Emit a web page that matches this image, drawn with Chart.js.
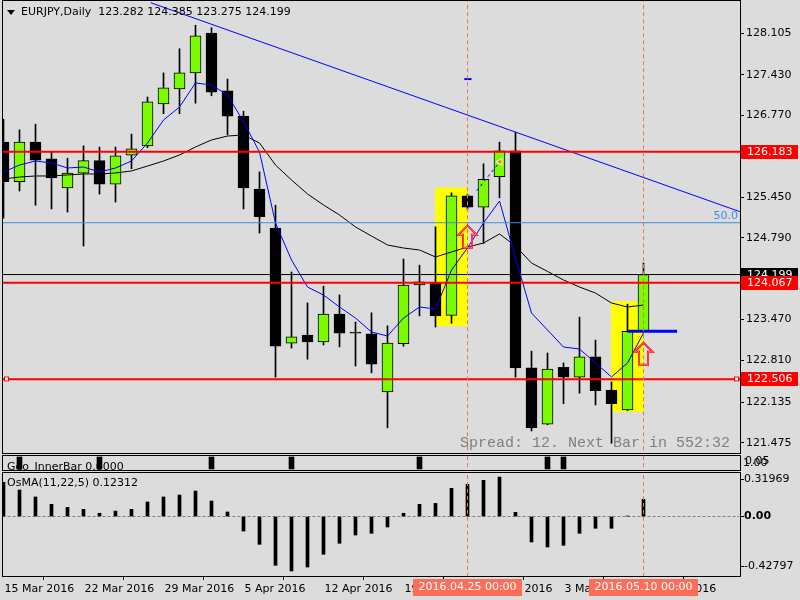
<!DOCTYPE html>
<html>
<head>
<meta charset="utf-8">
<script src="https://cdn.jsdelivr.net/npm/chart.js@4.4.1/dist/chart.umd.min.js"></script>
<style>
html, body { margin: 0; padding: 0; background: #dcdcdc; }
#wrap { position: relative; width: 800px; height: 600px; overflow: hidden; }
canvas { position: absolute; left: 0; }
</style>
</head>
<body>
<div id="wrap">
  <canvas id="main" width="800" height="454" style="top:0px"></canvas>
  <canvas id="inner" width="800" height="17" style="top:454px"></canvas>
  <canvas id="osma" width="800" height="129" style="top:471px"></canvas>
</div>
<script>
// EURJPY daily, 15 Mar 2016 .. 10 May 2016
var dates = ['2016.03.15','2016.03.16','2016.03.17','2016.03.18','2016.03.21','2016.03.22','2016.03.23','2016.03.24','2016.03.25',
  '2016.03.28','2016.03.29','2016.03.30','2016.03.31','2016.04.01','2016.04.04','2016.04.05','2016.04.06','2016.04.07','2016.04.08',
  '2016.04.11','2016.04.12','2016.04.13','2016.04.14','2016.04.15','2016.04.18','2016.04.19','2016.04.20','2016.04.21','2016.04.22',
  '2016.04.25','2016.04.26','2016.04.27','2016.04.28','2016.04.29','2016.05.02','2016.05.03','2016.05.04','2016.05.05','2016.05.06',
  '2016.05.09','2016.05.10'];

var open  = [126.34,125.70,126.34,126.07,125.60,125.84,126.04,125.66,126.13,126.28,126.96,127.20,127.46,128.105,127.17,126.76,125.58,124.95,123.09,123.22,123.11,123.56,123.27,123.24,122.30,123.08,124.03,124.06,123.54,125.47,125.29,125.78,126.20,122.69,121.78,122.70,122.54,122.87,122.33,122.01,123.282];
var high  = [126.71,126.54,126.63,126.18,126.08,126.28,126.26,126.26,126.47,127.07,127.46,127.85,128.23,128.19,127.36,126.84,125.86,125.32,124.24,123.74,124.01,123.87,123.43,123.58,123.37,124.45,124.35,124.97,125.52,125.50,125.99,126.34,126.50,122.96,122.93,122.77,123.51,123.14,122.46,123.72,124.385];
var low   = [125.11,125.55,125.32,125.26,125.21,124.66,125.50,125.37,125.91,126.25,126.80,126.80,126.97,127.09,126.46,125.26,124.87,122.54,123.01,122.83,123.06,123.03,122.72,122.61,121.72,123.04,123.53,123.35,123.41,125.25,124.70,125.44,122.54,121.67,121.77,122.11,122.28,122.09,121.47,122.00,123.275];
var close = [125.70,126.34,126.05,125.76,125.84,126.04,125.66,126.12,126.23,126.99,127.22,127.46,128.06,127.15,126.76,125.60,125.13,123.04,123.19,123.11,123.56,123.25,123.25,122.75,123.09,124.03,124.08,123.53,125.47,125.29,125.74,126.20,122.69,121.72,122.67,122.54,122.87,122.32,122.11,123.282,124.199];

// moving averages (blue fast, black slow)
var maFast = [125.857,125.970,126.035,126.003,125.922,125.938,125.857,125.922,126.035,126.326,126.698,126.908,127.297,127.264,127.103,126.670,126.180,125.033,124.434,123.997,123.868,123.674,123.496,123.270,123.205,123.496,123.674,123.642,124.272,124.630,125.033,125.388,124.466,123.577,123.302,123.027,122.995,122.769,122.543,122.769,123.254];
var maSlow = [125.744,125.776,125.793,125.793,125.809,125.825,125.825,125.841,125.874,125.954,126.035,126.132,126.262,126.375,126.439,126.456,126.326,125.970,125.728,125.502,125.324,125.162,124.968,124.822,124.677,124.628,124.596,124.483,124.564,124.644,124.709,124.855,124.660,124.385,124.250,124.111,123.997,123.900,123.739,123.674,123.706];

// OsMA(11,22,5)
var osma = [0.294,0.228,0.168,0.105,0.079,0.062,0.028,0.047,0.062,0.125,0.168,0.185,0.219,0.133,0.039,-0.125,-0.239,-0.419,-0.468,-0.434,-0.325,-0.230,-0.159,-0.144,-0.090,0.028,0.105,0.113,0.242,0.277,0.311,0.339,0.036,-0.219,-0.262,-0.248,-0.144,-0.101,-0.101,0.004,0.148];

// Geo_InnerBar signals
var innerBarIdx = [1, 6, 13, 18, 26, 34, 35];

// tick labels
var priceTicks = [128.105, 127.430, 126.770, 126.110, 125.450, 124.790, 124.130, 123.470, 122.810, 122.135, 121.475];
var osmaTicks = [0.31969, 0, -0.42797];
var osmaTickLabels = ['0.31969', '0.00', '-0.42797'];
var timeIdx = [0, 5, 10, 15, 20, 25, 30, 35, 40];
var timeLabels = ['15 Mar 2016','22 Mar 2016','29 Mar 2016','5 Apr 2016','12 Apr 2016','19 Apr 2016','26 Apr 2016','3 May 2016','10 May 2016'];

// chart objects
var redLevels = [126.183, 124.067, 122.506];
var bidPrice = 124.199;
var fibo50 = 125.037;
var trendX = [9.2, 46.03];
var trendY = [128.595, 125.215];
var boxIdx = [28, 39];
var boxLow = [123.372, 121.980];
var boxHigh = [125.603, 123.760];
var arrowIdx = [29, 40];
var arrowPrice = [124.99, 123.097];
var vlineIdx = [29, 40];
var vlineText = ['2016.04.25 00:00', '2016.05.10 00:00'];
var orderX = [29.57, 31.03];
var orderY = [125.555, 126.024];

var xMin = -0.09375, xMax = 46.03125;
var FONT = '11px "DejaVu Sans"';

Chart.defaults.font.family = 'DejaVu Sans';
Chart.defaults.font.size = 11;
Chart.defaults.color = '#000';

function hline(y, color, width, order, dash) {
  return { type: 'line', data: [{x: -1, y: y}, {x: 47, y: y}], borderColor: color, borderWidth: width,
    borderDash: dash || [], pointRadius: 0, order: order };
}
function vline(idx, y0, y1) {
  return { type: 'line', data: [{x: idx, y: y0}, {x: idx, y: y1}], borderColor: '#f0705a', borderWidth: 1,
    borderDash: [4, 3], pointRadius: 0, order: 1 };
}
// keep the axis labels from pushing the plot area inwards
function noPadding(s) {
  s.paddingTop = 0; s.paddingBottom = 0; s.paddingLeft = 0; s.paddingRight = 0;
}

var frame = {
  id: 'frame',
  afterDatasetsDraw: function(c) {
    var a = c.chartArea, ctx = c.ctx;
    ctx.save();
    ctx.strokeStyle = '#000';
    ctx.lineWidth = 1;
    ctx.strokeRect(a.left + 0.5, a.top - 0.5, a.right - a.left, a.bottom - a.top + 1);
    ctx.restore();
  }
};

function baseOptions(yMin, yMax, padTop, padBottom) {
  return {
    responsive: false, animation: false, events: [],
    layout: { autoPadding: false, padding: { left: 2, right: 0, top: padTop, bottom: padBottom } },
    plugins: { legend: { display: false }, tooltip: { enabled: false } },
    scales: {
      x: { type: 'linear', min: xMin, max: xMax, offset: false, display: false },
      y: { position: 'right', min: yMin, max: yMax,
        afterFit: function(s) { s.width = 60; noPadding(s); },
        grid: { drawOnChartArea: false, tickLength: 4, color: '#000' },
        border: { display: false },
        ticks: { autoSkip: false, padding: 2 } }
    }
  };
}

// ---------- main price chart ----------
var wickData = dates.map(function(d, i) { return {x: i, y: [low[i], high[i]]}; });
var bodyData = dates.map(function(d, i) { return {x: i, y: [open[i], close[i]]}; });
var bodyColor = dates.map(function(d, i) { return close[i] >= open[i] ? '#7cfc00' : '#000000'; });

var mainPlugin = {
  id: 'mainDeco',
  beforeDatasetsDraw: function(c) {
    var ctx = c.ctx;
    ctx.save();
    ctx.font = '15px "Liberation Mono"';
    ctx.fillStyle = '#808080';
    ctx.textAlign = 'right';
    ctx.textBaseline = 'middle';
    ctx.fillText('Spread: 12. Next Bar in 552:32', 730, 443);
    ctx.restore();
  },
  afterDatasetsDraw: function(c) {
    var ctx = c.ctx, xs = c.scales.x, ys = c.scales.y, a = c.chartArea;
    ctx.save();
    // hollow up arrows
    arrowIdx.forEach(function(idx, k) {
      var cx = xs.getPixelForValue(idx), t = ys.getPixelForValue(arrowPrice[k]);
      ctx.beginPath();
      ctx.moveTo(cx, t);
      ctx.lineTo(cx + 9, t + 9);
      ctx.lineTo(cx + 4.5, t + 9);
      ctx.lineTo(cx + 4.5, t + 22);
      ctx.lineTo(cx - 4.5, t + 22);
      ctx.lineTo(cx - 4.5, t + 9);
      ctx.lineTo(cx - 9, t + 9);
      ctx.closePath();
      ctx.strokeStyle = '#ff0000';
      ctx.lineWidth = 2;
      ctx.stroke();
      ctx.strokeStyle = '#ff9a9a';
      ctx.lineWidth = 0.7;
      ctx.stroke();
    });
    // selection markers on 122.506 line
    var ym = Math.round(ys.getPixelForValue(redLevels[2])) - 2.5;
    [a.left + 2, a.right - 6].forEach(function(xm) {
      ctx.fillStyle = '#fff';
      ctx.fillRect(xm, ym, 5, 5);
      ctx.strokeStyle = '#ff0000';
      ctx.lineWidth = 1;
      ctx.strokeRect(xm + 0.5, ym + 0.5, 4, 4);
    });
    // fibo level text
    ctx.font = FONT;
    ctx.fillStyle = '#3d8fe0';
    ctx.textAlign = 'right';
    ctx.textBaseline = 'bottom';
    ctx.fillText('50.0', a.right - 2, ys.getPixelForValue(fibo50) - 1);
    ctx.restore();
  },
  afterDraw: function(c) {
    var ctx = c.ctx, ys = c.scales.y;
    ctx.save();
    // title
    ctx.fillStyle = '#000';
    ctx.beginPath();
    ctx.moveTo(7, 10); ctx.lineTo(15, 10); ctx.lineTo(11, 15); ctx.closePath();
    ctx.fill();
    ctx.font = FONT;
    ctx.textAlign = 'left';
    ctx.textBaseline = 'middle';
    ctx.fillText('EURJPY,Daily  123.282 124.385 123.275 124.199', 21, 12.5);
    // price labels on the axis
    function tag(price, bg) {
      var y = ys.getPixelForValue(price);
      ctx.fillStyle = bg;
      ctx.fillRect(741, Math.round(y) - 7, 57, 14);
      ctx.fillStyle = '#fff';
      ctx.fillText(price.toFixed(3), 747, Math.round(y));
    }
    tag(bidPrice, '#000');
    redLevels.forEach(function(p) { tag(p, '#ff0000'); });
    ctx.restore();
  }
};

var mainOpts = baseOptions(121.3132, 128.6225, 1, 1);
mainOpts.scales.y.afterBuildTicks = function(s) { s.ticks = priceTicks.map(function(v) { return {value: v}; }); };
mainOpts.scales.y.ticks.callback = function(v) { return v.toFixed(3); };

new Chart(document.getElementById('main'), {
  type: 'bar',
  data: {
    datasets: [
      { type: 'bar', data: boxIdx.map(function(idx, k) { return {x: idx, y: [boxLow[k], boxHigh[k]]}; }),
        backgroundColor: '#ffff00', barThickness: 32, grouped: false, order: 20 },
      { type: 'bar', data: wickData, backgroundColor: '#000', barThickness: 1, grouped: false, order: 19 },
      { type: 'bar', data: bodyData, backgroundColor: bodyColor, borderColor: '#000', borderWidth: 1,
        borderSkipped: false, barThickness: 11, grouped: false, order: 18 },
      { type: 'line', data: dates.map(function(d, i) { return {x: i, y: maSlow[i]}; }), borderColor: '#000',
        borderWidth: 1, pointRadius: 0, order: 10 },
      { type: 'line', data: dates.map(function(d, i) { return {x: i, y: maFast[i]}; }), borderColor: '#0000ff',
        borderWidth: 1, pointRadius: 0, order: 9 },
      hline(fibo50, '#3d8fe0', 1, 8),
      { type: 'line', data: [{x: trendX[0], y: trendY[0]}, {x: trendX[1], y: trendY[1]}], borderColor: '#0000ff',
        borderWidth: 1, pointRadius: 0, order: 7 },
      hline(bidPrice, '#000', 1, 6),
      hline(redLevels[0], '#ff0000', 2, 5),
      hline(redLevels[1], '#ff0000', 2, 5),
      hline(redLevels[2], '#ff0000', 2, 5),
      { type: 'line', data: [{x: 39, y: close[39]}, {x: 42.1, y: close[39]}], borderColor: '#0000ff',
        borderWidth: 3, pointRadius: 0, order: 4 },
      { type: 'line', data: [{x: 28.8, y: 127.36}, {x: 29.25, y: 127.36}], borderColor: '#0000ff',
        borderWidth: 2, pointRadius: 0, order: 4 },
      { type: 'line', data: [{x: orderX[0], y: orderY[0]}, {x: orderX[1], y: orderY[1]}], borderColor: '#0000ff',
        borderWidth: 1, borderDash: [3, 3], pointRadius: 0, order: 4 },
      { type: 'line', data: [{x: orderX[1], y: orderY[1]}], showLine: false, pointStyle: 'triangle', rotation: -90,
        pointRadius: 4, pointBackgroundColor: '#e88a20', pointBorderColor: '#fff', pointBorderWidth: 1, order: 3 },
      vline(vlineIdx[0], 120, 130),
      vline(vlineIdx[1], 120, 130)
    ]
  },
  options: mainOpts,
  plugins: [frame, mainPlugin]
});

// ---------- Geo_InnerBar panel ----------
var innerOpts = baseOptions(-0.083, 1.083, 2, 1);
innerOpts.scales.y.ticks.display = false;
innerOpts.scales.y.grid.display = false;

new Chart(document.getElementById('inner'), {
  type: 'bar',
  data: {
    datasets: [
      { type: 'bar', data: innerBarIdx.map(function(idx) { return {x: idx, y: [0, 1]}; }),
        backgroundColor: '#000', barThickness: 5, grouped: false, order: 5 },
      vline(vlineIdx[0], -1, 2),
      vline(vlineIdx[1], -1, 2)
    ]
  },
  options: innerOpts,
  plugins: [frame, {
    id: 'innerDeco',
    beforeDatasetsDraw: function(c) {
      var ctx = c.ctx, a = c.chartArea;
      ctx.save();
      ctx.beginPath();
      ctx.rect(a.left, a.top, a.right - a.left, a.bottom - a.top);
      ctx.clip();
      ctx.font = FONT;
      ctx.fillStyle = '#000';
      ctx.textBaseline = 'alphabetic';
      ctx.fillText('Geo_InnerBar 0.0000', 7, 15.5);
      ctx.restore();
    },
    afterDraw: function(c) {
      var ctx = c.ctx;
      ctx.save();
      ctx.font = FONT;
      ctx.fillStyle = '#000';
      ctx.textBaseline = 'middle';
      ctx.fillText('0.05', 745, 7);
      ctx.fillText('1.00', 743, 9.5);
      ctx.restore();
    }
  }]
});

// ---------- OsMA panel ----------
var osmaOpts = baseOptions(-0.5111, 0.3739, 2, 0);
osmaOpts.scales.y.afterBuildTicks = function(s) { s.ticks = osmaTicks.map(function(v) { return {value: v}; }); };
osmaOpts.scales.y.ticks.callback = function(v, i) { return osmaTickLabels[i]; };
osmaOpts.scales.y.ticks.padding = 0;
osmaOpts.scales.y.ticks.font = function(ctx) {
  return { family: 'DejaVu Sans', size: 11, weight: (ctx.tick && ctx.tick.value === 0) ? 'bold' : 'normal' };
};
osmaOpts.scales.x = {
  type: 'linear', min: xMin, max: xMax, offset: false, position: 'bottom',
  afterBuildTicks: function(s) { s.ticks = timeIdx.map(function(v) { return {value: v}; }); },
  afterFit: function(s) { s.height = 24; noPadding(s); },
  grid: { drawOnChartArea: false, tickLength: 4, color: '#000' },
  border: { display: false },
  ticks: { autoSkip: false, maxRotation: 0, minRotation: 0, align: 'start', padding: 3, labelOffset: 1,
    callback: function(v, i) { return timeLabels[i]; } }
};

new Chart(document.getElementById('osma'), {
  type: 'bar',
  data: {
    datasets: [
      { type: 'bar', data: dates.map(function(d, i) { return {x: i, y: osma[i]}; }),
        backgroundColor: '#000', barThickness: 3, grouped: false, order: 5 },
      hline(0, '#808080', 1, 6, [3, 2]),
      vline(vlineIdx[0], -1, 1),
      vline(vlineIdx[1], -1, 1)
    ]
  },
  options: osmaOpts,
  plugins: [frame, {
    id: 'osmaDeco',
    afterDraw: function(c) {
      var ctx = c.ctx, xs = c.scales.x;
      ctx.save();
      ctx.font = FONT;
      ctx.fillStyle = '#000';
      ctx.textBaseline = 'middle';
      ctx.fillText('OsMA(11,22,5) 0.12312', 7, 12);
      vlineIdx.forEach(function(idx, k) {
        var cx = xs.getPixelForValue(idx);
        ctx.fillStyle = '#fa6e5a';
        ctx.fillRect(Math.round(cx - 55), 108, 109, 17);
        ctx.fillStyle = '#fff';
        ctx.textAlign = 'center';
        ctx.fillText(vlineText[k], cx, 116.5);
      });
      ctx.restore();
    }
  }]
});
</script>
</body>
</html>
